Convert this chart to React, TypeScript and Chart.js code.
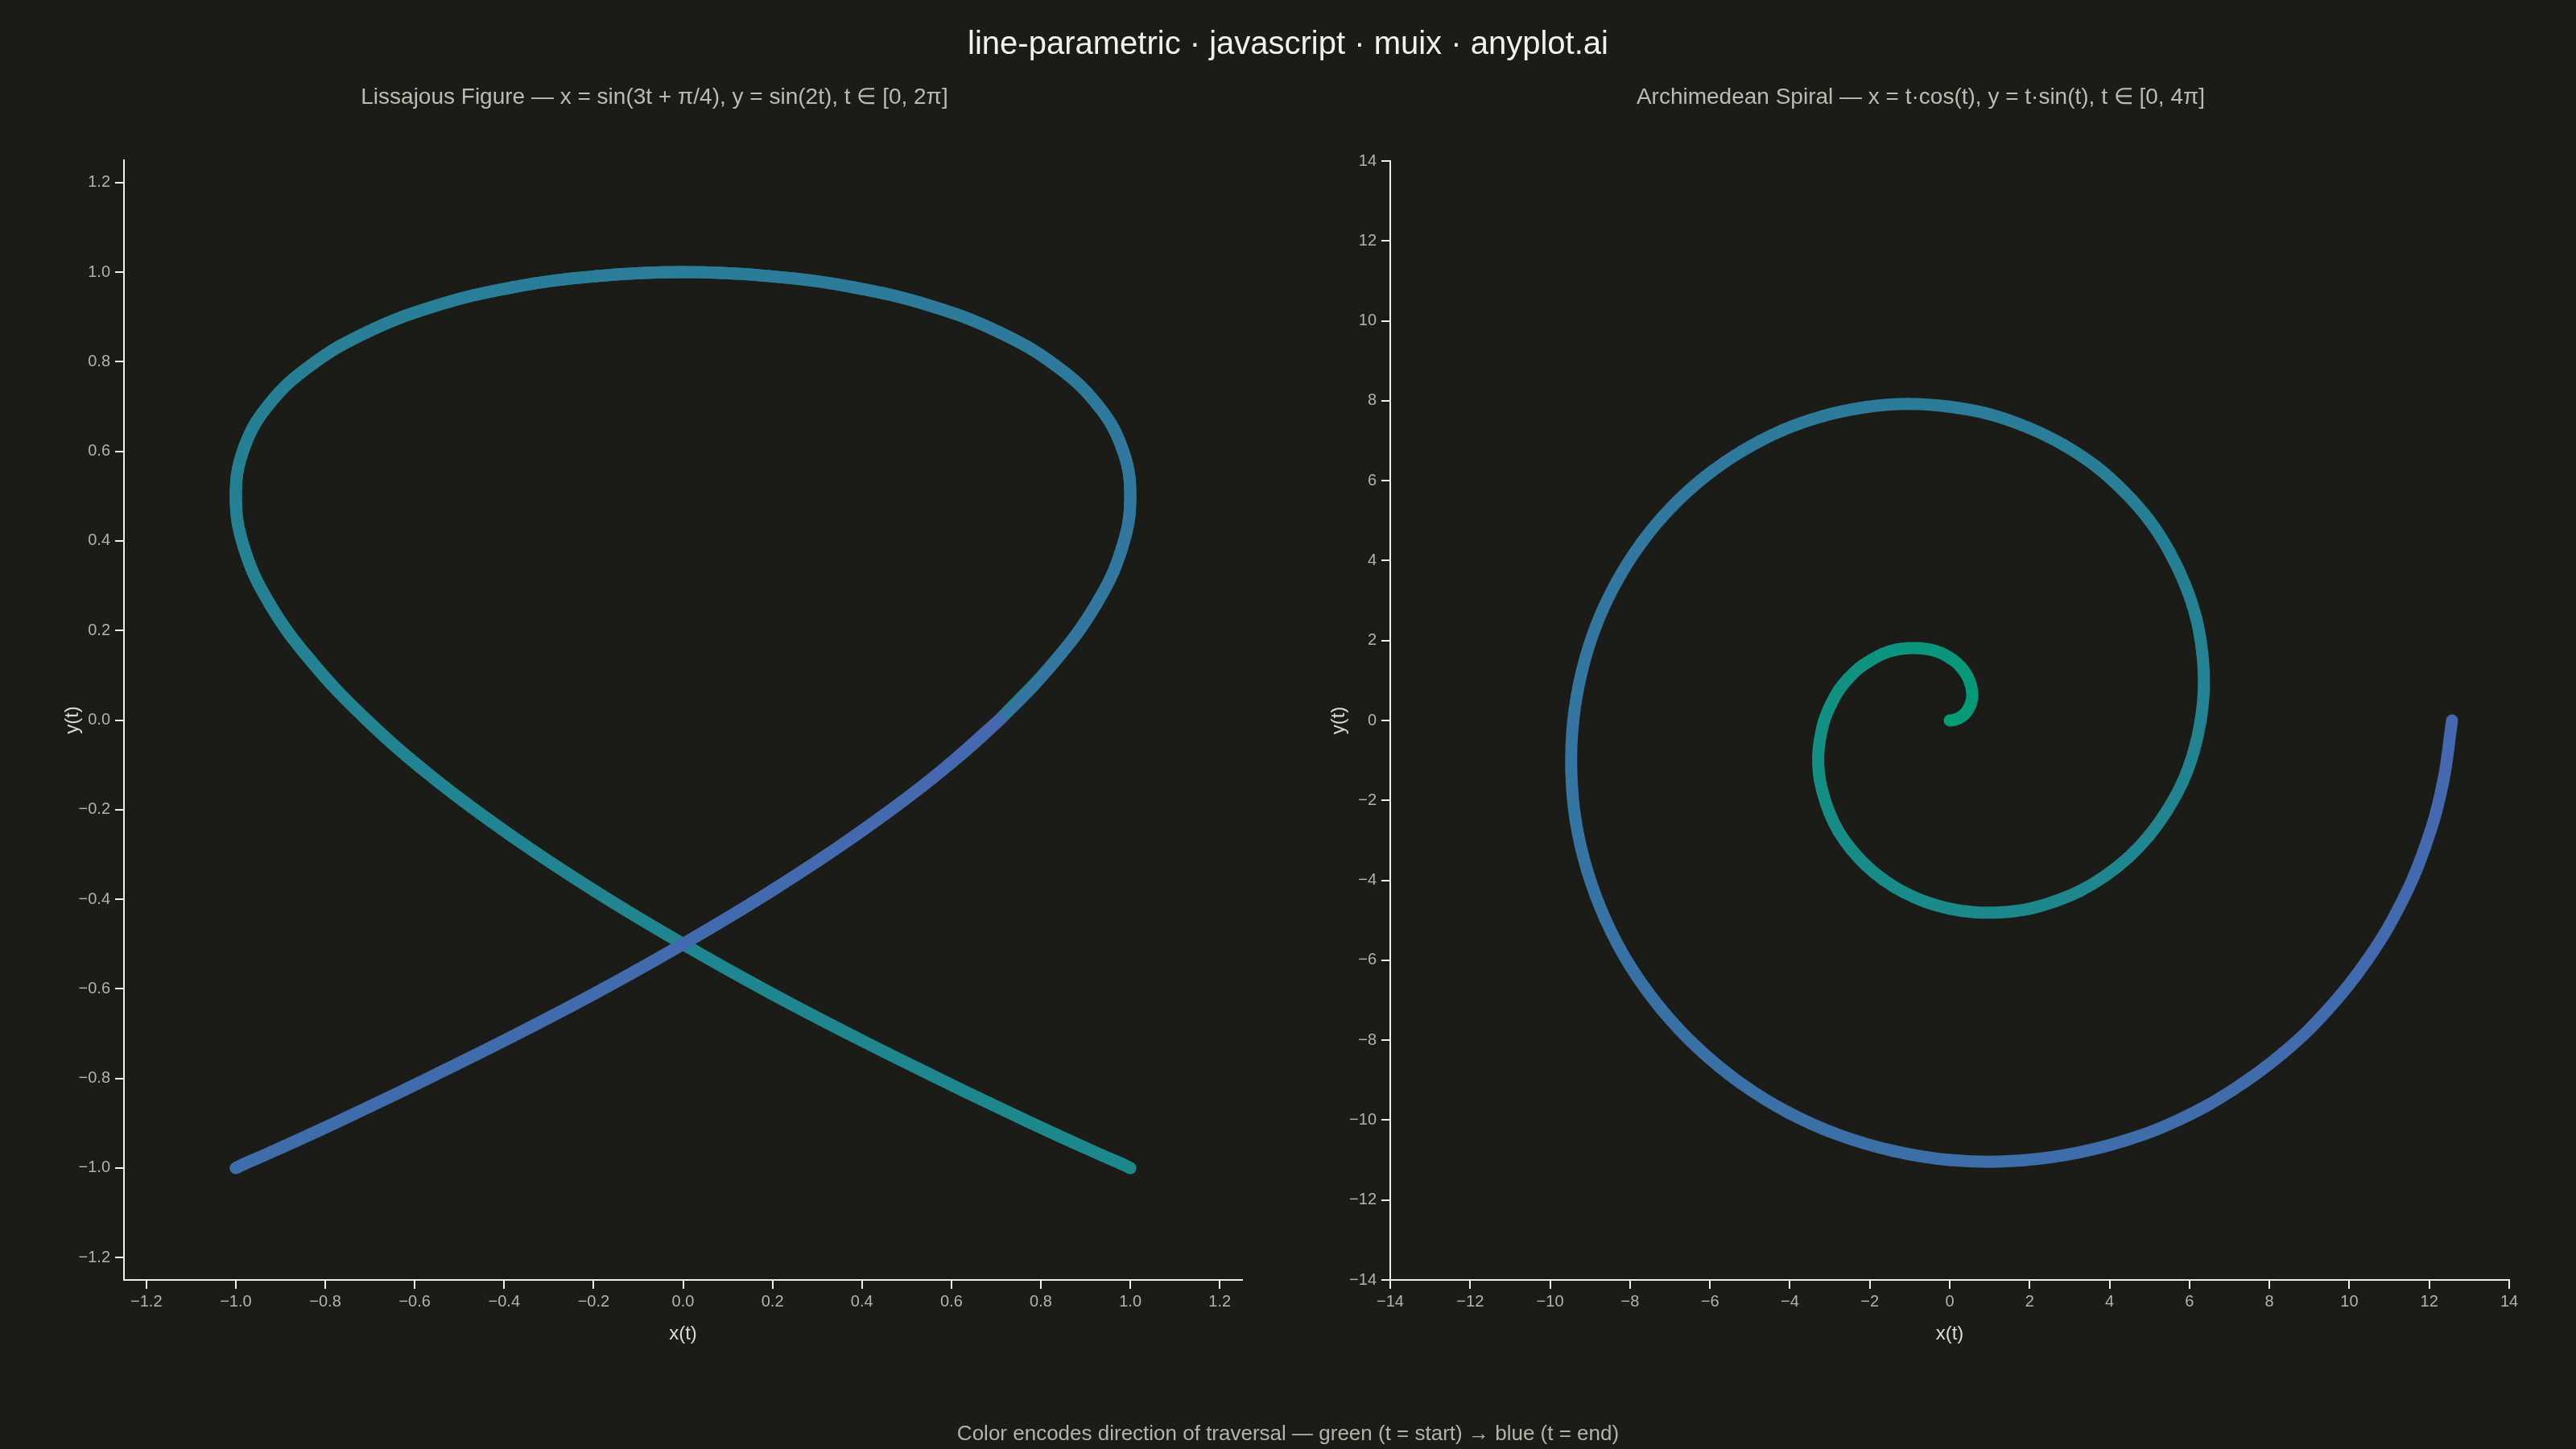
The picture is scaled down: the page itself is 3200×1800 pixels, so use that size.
import React, { useEffect, useRef } from "react";
import { Chart, registerables } from "chart.js";

Chart.register(...registerables);

// ---- Data ----
// Lissajous figure, samples along t from 0 to 2π (the curve is traced forward and back)
const LISSAJOUS_X = [
  0.707, 0.831, 0.924, 0.981, 1, 0.981, 0.924, 0.831, 0.707, 0.556, 0.383, 0.195,
  0, -0.195, -0.383, -0.556, -0.707, -0.831, -0.924, -0.981, -1, -0.981, -0.924, -0.831,
  -0.707, -0.556, -0.383, -0.195, 0, 0.195, 0.383, 0.556,
  0.707, 0.831, 0.924, 0.981, 1, 0.981, 0.924, 0.831, 0.707, 0.556, 0.383, 0.195,
  0, -0.195, -0.383, -0.556, -0.707, -0.831, -0.924, -0.981, -1, -0.981, -0.924, -0.831,
  -0.707, -0.556, -0.383, -0.195, 0, 0.195, 0.383, 0.556,
  0.707, 0.831, 0.924, 0.981, 1, 0.981, 0.924, 0.831, 0.707, 0.556, 0.383, 0.195,
  0, -0.195, -0.383, -0.556, -0.707, -0.831, -0.924, -0.981, -1, -0.981, -0.924, -0.831,
  -0.707, -0.556, -0.383, -0.195, 0, 0.195, 0.383, 0.556,
  0.707,
];
const LISSAJOUS_Y = [
  0, 0.131, 0.259, 0.383, 0.5, 0.609, 0.707, 0.793, 0.866, 0.924, 0.966, 0.991,
  1, 0.991, 0.966, 0.924, 0.866, 0.793, 0.707, 0.609, 0.5, 0.383, 0.259, 0.131,
  0, -0.131, -0.259, -0.383, -0.5, -0.609, -0.707, -0.793, -0.866, -0.924, -0.966, -0.991,
  -1, -0.991, -0.966, -0.924, -0.866, -0.793, -0.707, -0.609, -0.5, -0.383, -0.259, -0.131,
  0, 0.131, 0.259, 0.383, 0.5, 0.609, 0.707, 0.793, 0.866, 0.924, 0.966, 0.991,
  1, 0.991, 0.966, 0.924, 0.866, 0.793, 0.707, 0.609, 0.5, 0.383, 0.259, 0.131,
  0, -0.131, -0.259, -0.383, -0.5, -0.609, -0.707, -0.793, -0.866, -0.924, -0.966, -0.991,
  -1, -0.991, -0.966, -0.924, -0.866, -0.793, -0.707, -0.609, -0.5, -0.383, -0.259, -0.131,
  0,
];

// Archimedean spiral, samples along t from 0 to 4π
const SPIRAL_X = [
  0, 0.13, 0.25, 0.36, 0.45, 0.52, 0.56, 0.56, 0.52, 0.45, 0.34, 0.19,
  0, -0.22, -0.47, -0.75, -1.05, -1.35, -1.67, -1.97, -2.27, -2.54, -2.78, -2.98,
  -3.14, -3.24, -3.29, -3.27, -3.17, -3.01, -2.78, -2.47, -2.09, -1.65, -1.15, -0.6,
  0, 0.63, 1.29, 1.95, 2.62, 3.27, 3.89, 4.47, 4.99, 5.44, 5.82, 6.1,
  6.28, 6.36, 6.32, 6.17, 5.89, 5.5, 5, 4.38, 3.67, 2.86, 1.96, 1.01,
  0, -1.04, -2.1, -3.16, -4.19, -5.18, -6.11, -6.96, -7.71, -8.34, -8.85, -9.21,
  -9.42, -9.47, -9.36, -9.07, -8.62, -8, -7.22, -6.3, -5.24, -4.06, -2.78, -1.42,
  0, 1.45, 2.91, 4.36, 5.76, 7.09, 8.33, 9.45, 10.43, 11.25, 11.89, 12.33,
  12.57,
];
const SPIRAL_Y = [
  0, 0.02, 0.07, 0.15, 0.26, 0.4, 0.56, 0.73, 0.91, 1.09, 1.26, 1.43,
  1.57, 1.69, 1.77, 1.81, 1.81, 1.77, 1.67, 1.51, 1.31, 1.05, 0.75, 0.39,
  0, -0.43, -0.88, -1.35, -1.83, -2.31, -2.78, -3.22, -3.63, -3.99, -4.3, -4.54,
  -4.71, -4.8, -4.8, -4.72, -4.53, -4.26, -3.89, -3.43, -2.88, -2.25, -1.56, -0.8,
  0, 0.84, 1.69, 2.55, 3.4, 4.22, 5, 5.71, 6.35, 6.89, 7.33, 7.66,
  7.85, 7.92, 7.84, 7.62, 7.26, 6.75, 6.11, 5.34, 4.45, 3.46, 2.37, 1.21,
  0, -1.25, -2.51, -3.76, -4.97, -6.14, -7.22, -8.2, -9.07, -9.8, -10.37, -10.77,
  -11, -11.03, -10.87, -10.52, -9.98, -9.24, -8.33, -7.25, -6.02, -4.66, -3.18, -1.62,
  0,
];

const LISSAJOUS_TICKS = [-1.2, -1.0, -0.8, -0.6, -0.4, -0.2, 0, 0.2, 0.4, 0.6, 0.8, 1.0, 1.2];
const SPIRAL_TICKS = [-14, -12, -10, -8, -6, -4, -2, 0, 2, 4, 6, 8, 10, 12, 14];

const TITLE = "line-parametric · javascript · muix · anyplot.ai";
const LISSAJOUS_TITLE = "Lissajous Figure — x = sin(3t + π/4), y = sin(2t), t ∈ [0, 2π]";
const SPIRAL_TITLE = "Archimedean Spiral — x = t·cos(t), y = t·sin(t), t ∈ [0, 4π]";
const CAPTION = "Color encodes direction of traversal — green (t = start) → blue (t = end)";
const X_LABEL = "x(t)";
const Y_LABEL = "y(t)";

// ---- Styles ----
const FONT = '"Liberation Sans", Arial, sans-serif';
const BG = "#1b1b17";
const AXIS = "#efeee7";
const TICK_TEXT = "#b4b2a9";
const AXIS_TITLE = "#dcdad2";
const START_RGB = [0, 158, 115];
const END_RGB = [69, 104, 176];

function colorAt(f: number) {
  const c = START_RGB.map((s, i) => Math.round(s + (END_RGB[i] - s) * f));
  return `rgb(${c[0]},${c[1]},${c[2]})`;
}

function fmt(decimals: number) {
  return (v: number) => {
    const s = Math.abs(v).toFixed(decimals);
    return (v < -1e-9 ? "\u2212" : "") + s;
  };
}

type PanelProps = {
  xs: number[];
  ys: number[];
  min: number;
  max: number;
  ticks: number[];
  decimals: number;
  canvasLeft: number;
  plotLeft: number;
  plotRight: number;
  plotTop: number;
  plotBottom: number;
  yTitleX: number;
};

const CW = 1600;
const CH = 1800;

function Panel(p: PanelProps) {
  const ref = useRef<HTMLCanvasElement | null>(null);
  useEffect(() => {
    if (!ref.current) return;
    const n = p.xs.length;
    const points = p.xs.map((x, i) => ({ x, y: p.ys[i] }));
    const tickFont = { family: FONT, size: 20 };
    const titleFont = { family: FONT, size: 24 };
    const xTitleCenter = 1657;
    const yAxisWidth = p.plotLeft - p.canvasLeft;
    const common = (axis: "x" | "y") => ({
      type: "linear" as const,
      min: p.min,
      max: p.max,
      afterBuildTicks: (s: any) => {
        s.ticks = p.ticks.map((v) => ({ value: v }));
      },
      ticks: {
        color: TICK_TEXT,
        font: tickFont,
        padding: axis === "x" ? 4 : 6,
        autoSkip: false,
        maxRotation: 0,
        includeBounds: false,
        callback: (v: any) => fmt(p.decimals)(Number(v)),
      },
      grid: {
        display: true,
        drawOnChartArea: false,
        drawTicks: true,
        tickLength: 11,
        tickWidth: 2,
        tickColor: AXIS,
        color: AXIS,
        lineWidth: 2,
      },
      border: { display: true, color: AXIS, width: 2 },
    });
    const chart = new Chart(ref.current, {
      type: "scatter",
      data: {
        datasets: [
          {
            data: points,
            showLine: true,
            borderWidth: 15,
            pointRadius: 0,
            pointHoverRadius: 0,
            tension: 0.4,
            borderCapStyle: "round",
            borderJoinStyle: "round",
            borderColor: colorAt(0.5),
            segment: {
              borderColor: (ctx: any) => colorAt((ctx.p0DataIndex + 0.5) / (n - 1)),
            },
          } as any,
        ],
      },
      options: {
        animation: false,
        responsive: false,
        devicePixelRatio: 1,
        events: [],
        layout: {
          padding: {
            top: p.plotTop,
            left: 0,
            right: CW - (p.plotRight - p.canvasLeft),
            bottom: 0,
          },
        },
        plugins: {
          legend: { display: false },
          tooltip: { enabled: false },
          title: { display: false },
        },
        scales: {
          x: {
            ...common("x"),
            position: "bottom",
            title: {
              display: true,
              text: X_LABEL,
              color: AXIS_TITLE,
              font: titleFont,
              padding: { top: 0, bottom: CH - 14.4 - xTitleCenter },
            },
            afterFit: (s: any) => {
              s.height = CH - p.plotBottom;
            },
          } as any,
          y: {
            ...common("y"),
            position: "left",
            title: {
              display: true,
              text: Y_LABEL,
              color: AXIS_TITLE,
              font: titleFont,
              padding: { top: p.yTitleX - p.canvasLeft - 14.4, bottom: 0 },
            },
            afterFit: (s: any) => {
              s.width = yAxisWidth;
            },
          } as any,
        },
      },
    });
    return () => chart.destroy();
  }, []);
  return (
    <canvas
      ref={ref}
      width={CW}
      height={CH}
      style={{ position: "absolute", left: p.canvasLeft, top: 0, width: CW, height: CH }}
    />
  );
}

function Text(props: { x: number; y: number; size: number; color: string; children: any }) {
  return (
    <div
      style={{
        position: "absolute",
        left: props.x,
        top: props.y,
        transform: "translate(-50%, -50%)",
        whiteSpace: "nowrap",
        fontFamily: FONT,
        fontSize: props.size,
        lineHeight: 1,
        color: props.color,
      }}
    >
      {props.children}
    </div>
  );
}

export default function App() {
  return (
    <div
      style={{
        position: "fixed",
        left: 0,
        top: 0,
        width: 3200,
        height: 1800,
        background: BG,
        overflow: "hidden",
      }}
    >
      <Panel
        xs={LISSAJOUS_X}
        ys={LISSAJOUS_Y}
        min={-1.25}
        max={1.25}
        ticks={LISSAJOUS_TICKS}
        decimals={1}
        canvasLeft={0}
        plotLeft={154}
        plotRight={1543}
        plotTop={199}
        plotBottom={1590}
        yTitleX={90}
      />
      <Panel
        xs={SPIRAL_X}
        ys={SPIRAL_Y}
        min={-14}
        max={14}
        ticks={SPIRAL_TICKS}
        decimals={0}
        canvasLeft={1600}
        plotLeft={1727}
        plotRight={3117}
        plotTop={200}
        plotBottom={1590}
        yTitleX={1663}
      />
      <Text x={1600} y={53} size={40} color="#f2f1ea">{TITLE}</Text>
      <Text x={813} y={120} size={28} color="#bcbab1">{LISSAJOUS_TITLE}</Text>
      <Text x={2386} y={120} size={28} color="#bcbab1">{SPIRAL_TITLE}</Text>
      <Text x={1600} y={1780} size={26} color="#b4b2a9">{CAPTION}</Text>
    </div>
  );
}
